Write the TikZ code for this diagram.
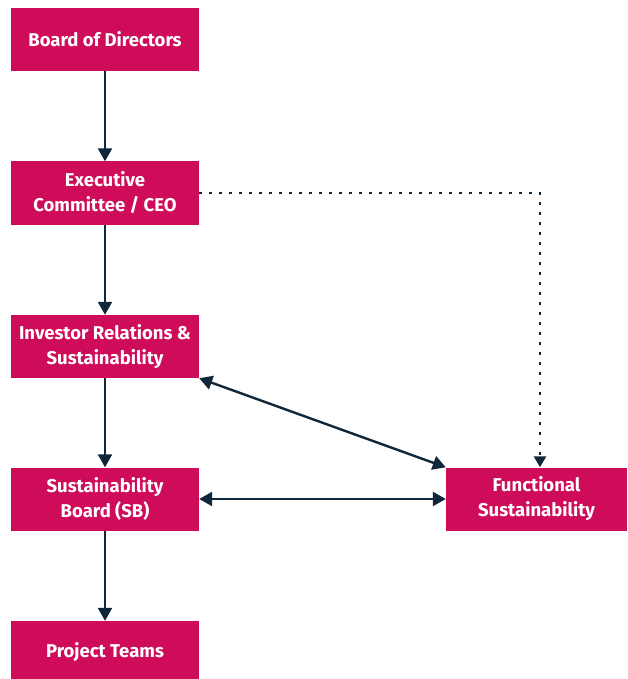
\documentclass[tikz,border=0pt]{standalone}
\usepackage{fontspec}
\setsansfont{Fira Sans}
\usetikzlibrary{arrows.meta}
\definecolor{berry}{HTML}{CF0C59}
\definecolor{navy}{HTML}{10273A}
\begin{document}
\begin{tikzpicture}[x=1pt, y=-1pt, >={Triangle[length=13pt,width=14pt]},
    box/.style={fill=berry, text=white, font=\sffamily\bfseries\fontsize{18.5}{25}\selectfont,
        align=center, minimum width=188pt, minimum height=63pt, inner sep=0pt},
    link/.style={draw=navy, line width=2.4pt}]
\useasboundingbox (0,0) rectangle (627,679);
\node[box] (bod) at (105,39.5) {Board of Directors};
\node[box] (exe) at (105,193) {Executive\\Committee / CEO};
\node[box] (irs) at (105,346.5) {Investor Relations \&\\Sustainability};
\node[box] (sb) at (105,499) {Sustainability\\Board (SB)};
\node[box] (pt) at (105,652.5) {Project Teams};
\node[box, minimum width=181pt] (fs) at (536.5,499) {Functional\\Sustainability};

\draw[link,->](bod)--(exe);
\draw[link,->](exe)--(irs);
\draw[link,->](irs)--(sb);
\draw[link,->](sb)--(pt);
\draw[link,<->](irs.south east)--(fs.north west);
\draw[link,<->](sb)--(fs);
\draw[navy, line width=2.6pt, dash pattern=on 2.6pt off 7.4pt, -{Triangle[length=11pt,width=12pt]}]
    (exe.east)-|([xshift=3.5pt]fs.north);
\end{tikzpicture}
\end{document}
